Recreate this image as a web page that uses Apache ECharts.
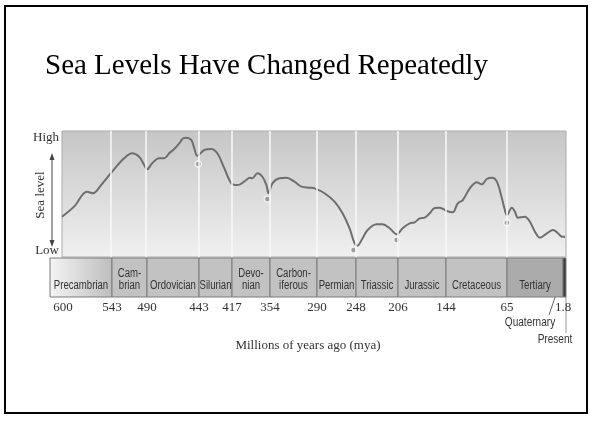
<!DOCTYPE html>
<html>
<head>
<meta charset="utf-8">
<script src="https://cdn.jsdelivr.net/npm/echarts@6/dist/echarts.min.js"></script>
<style>
html, body { margin: 0; padding: 0; background: #fff; }
#chart { width: 590px; height: 445px; }
</style>
</head>
<body>
<div id="chart"></div>
<script>
// period edges along the figure (the original figure is not drawn to time scale)
var edgePos = [0, 49, 84, 136, 169, 207, 254, 293, 335, 383, 444, 500, 503];
var edgeLabels = ["600", "543", "490", "443", "417", "354", "290", "248", "206", "144", "65", "1.8", ""];
var periods = ["Precambrian", "Cam-\nbrian", "Ordovician", "Silurian", "Devo-\nnian", "Carbon-\niferous",
  "Permian", "Triassic", "Jurassic", "Cretaceous", "Tertiary", ""];
// sea level: [figure position, level 0 = low .. 100 = high]
var seaLevel = [
  [0, 32], [12, 40], [25, 51.8], [31, 50.6], [39, 57], [50, 67.7], [62, 78.3], [70, 82.3], [77, 79.6],
  [82, 73], [85, 69.6], [90, 74.4], [97, 78.3], [102, 78.3], [107, 82.3], [112, 85.7], [117, 90.2],
  [121, 94.2], [124, 94.7], [129, 92.9], [132, 86.3], [135, 80.4], [142, 84.9], [149, 85.7], [155, 82.3],
  [162, 70.4], [169, 58.5], [175, 57.1], [184, 61.1], [187, 62.9], [190, 62.5], [195, 66.4], [200, 63.7],
  [204, 57.1], [206, 50.6], [210, 58.5], [217, 62.5], [224, 62.9], [232, 59.8], [239, 55.8], [247, 55],
  [252, 54.5], [262, 50.6], [272, 43.9], [280, 34.7], [287, 22.8], [292, 10.9], [295, 9], [299, 13.5],
  [305, 21.4], [314, 26], [320, 26], [327, 22.8], [334, 18], [340, 22.8], [347, 26.7], [352, 27.5],
  [357, 30.7], [362, 31.2], [367, 34.7], [372, 38.9], [377, 39.1], [384, 36.5], [390, 35.5], [395, 42.6],
  [400, 45.2], [407, 54.5], [414, 59.3], [419, 57.7], [424, 61.9], [429, 62.9], [434, 59.8], [439, 46.6],
  [442, 37.3], [444, 33.3], [449, 39.1], [452, 36], [455, 31.2], [462, 32], [467, 28], [472, 20.1],
  [477, 15.3], [484, 18.8], [490, 21.4], [495, 18.8], [499, 16.1], [502, 16.1]
];
// mass extinction markers
var extinctions = [[136, 73.8], [205, 46], [291, 5.6], [334, 13.5], [444, 27.2]];

var bandData = [];
for (var i = 0; i < periods.length; i++) {
  bandData.push([edgePos[i], edgePos[i + 1], i]);
}

var serif = '"Liberation Serif", "Times New Roman", serif';
var sans = '"Liberation Sans", Arial, sans-serif';

var chart = echarts.init(document.getElementById("chart"));
chart.setOption({
  animation: false,
  graphic: [
    {
      type: "rect",
      shape: { x: 5, y: 6, width: 582, height: 407 },
      style: { fill: null, stroke: "#000", lineWidth: 2 }
    },
    {
      type: "text",
      x: 45, y: 66,
      style: { text: "Sea Levels Have Changed Repeatedly", font: "29px " + serif, fill: "#000", verticalAlign: "middle" }
    },
    {
      type: "text",
      x: 41, y: 195, rotation: Math.PI / 2,
      style: { text: "Sea level", font: "13px " + serif, fill: "#333", align: "center", verticalAlign: "middle" }
    },
    { type: "line", shape: { x1: 52, y1: 158, x2: 52, y2: 242 }, style: { stroke: "#444", lineWidth: 1 } },
    { type: "polygon", shape: { points: [[52, 153], [49.5, 160], [54.5, 160]] }, style: { fill: "#444" } },
    { type: "polygon", shape: { points: [[52, 247], [49.5, 240], [54.5, 240]] }, style: { fill: "#444" } },
    // Quaternary pointer and Present line
    { type: "line", shape: { x1: 549, y1: 315, x2: 565, y2: 268 }, style: { stroke: "#666", lineWidth: 1 } },
    { type: "line", shape: { x1: 566, y1: 297, x2: 566, y2: 333 }, style: { stroke: "#999", lineWidth: 1 } },
    {
      type: "text", x: 530, y: 323, scaleX: 0.84,
      style: { text: "Quaternary", font: "12px " + sans, fill: "#333", align: "center", verticalAlign: "middle" }
    },
    {
      type: "text", x: 555, y: 340, scaleX: 0.84,
      style: { text: "Present", font: "12px " + sans, fill: "#333", align: "center", verticalAlign: "middle" }
    }
  ],
  grid: [
    {
      left: 62, top: 131, width: 504, height: 126,
      show: true,
      borderColor: "#aaa",
      borderWidth: 1,
      backgroundColor: {
        type: "linear", x: 0, y: 0, x2: 0, y2: 1,
        colorStops: [{ offset: 0, color: "#c6c6c6" }, { offset: 1, color: "#f0f0f0" }]
      }
    },
    { left: 50, top: 258, width: 516, height: 39 }
  ],
  xAxis: [
    { gridIndex: 0, type: "value", min: 0, max: 503, show: false },
    {
      gridIndex: 1, type: "value", min: -13, max: 503,
      axisLine: { show: false },
      axisTick: { show: false },
      splitLine: { show: false },
      axisLabel: {
        customValues: edgePos.slice(0, 12),
        margin: 4,
        fontFamily: serif,
        fontSize: 13,
        color: "#333",
        formatter: function (v) {
          var k = edgePos.indexOf(v);
          return k >= 0 ? edgeLabels[k] : "";
        }
      },
      name: "Millions of years ago (mya)",
      nameLocation: "middle",
      nameGap: 42,
      nameTextStyle: { fontFamily: serif, fontSize: 13, color: "#333" }
    }
  ],
  yAxis: [
    {
      gridIndex: 0, type: "value", min: 0, max: 100,
      axisLine: { show: false },
      axisTick: { show: false },
      splitLine: { show: false },
      axisLabel: {
        customValues: [5, 95],
        margin: 3,
        fontFamily: serif,
        fontSize: 13,
        color: "#333",
        formatter: function (v) { return v > 50 ? "High" : "Low"; }
      }
    },
    { gridIndex: 1, type: "value", min: 0, max: 1, show: false }
  ],
  series: [
    {
      type: "line",
      xAxisIndex: 0, yAxisIndex: 0,
      data: seaLevel,
      smooth: 0.35,
      showSymbol: false,
      lineStyle: { color: "#6e6e6e", width: 2 },
      markLine: {
        silent: true,
        symbol: "none",
        label: { show: false },
        lineStyle: { color: "#f8f8f8", width: 1.5, type: "solid", opacity: 1 },
        data: edgePos.slice(1, 11).map(function (p) { return { xAxis: p }; })
      },
      z: 3
    },
    {
      type: "scatter",
      xAxisIndex: 0, yAxisIndex: 0,
      data: extinctions,
      symbolSize: 6,
      itemStyle: { color: "#8a8a8a", borderColor: "#fafafa", borderWidth: 1.5 },
      z: 4
    },
    {
      type: "custom",
      xAxisIndex: 1, yAxisIndex: 1,
      data: bandData,
      renderItem: function (params, api) {
        var k = api.value(2);
        var a = api.coord([api.value(0), 1]);
        var b = api.coord([api.value(1), 0]);
        var x0 = k === 0 ? params.coordSys.x : a[0];
        var fill = "#c2c2c2";
        if (k === 0) {
          fill = new echarts.graphic.LinearGradient(0, 0, 1, 0, [
            { offset: 0, color: "#f4f4f4" }, { offset: 1, color: "#bdbdbd" }
          ]);
        } else if (k === 10) {
          fill = "#ababab";
        } else if (k === 11) {
          fill = "#3c3c3c";
        }
        return {
          type: "group",
          children: [
            {
              type: "rect",
              shape: { x: x0, y: a[1], width: b[0] - x0, height: b[1] - a[1] },
              style: { fill: fill, stroke: "#7a7a7a", lineWidth: 1 }
            },
            {
              type: "text",
              x: (x0 + b[0]) / 2,
              y: b[1] - 5,
              scaleX: 0.8,
              style: {
                text: periods[k],
                x: 0,
                y: 0,
                align: "center",
                verticalAlign: "bottom",
                font: "12px " + sans,
                lineHeight: 12,
                fill: "#333"
              }
            }
          ]
        };
      }
    }
  ]
});
</script>
</body>
</html>
